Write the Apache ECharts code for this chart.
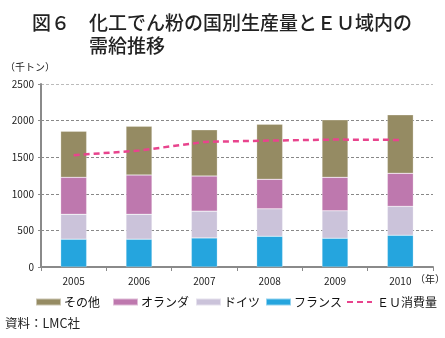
<!DOCTYPE html>
<html><head><meta charset="utf-8">
<script src="https://cdn.jsdelivr.net/npm/echarts@6/dist/echarts.min.js"></script>
<style>html,body{margin:0;padding:0;background:#fff}#c{width:445px;height:338px}</style>
</head><body><div id="c"></div>
<script>
const years = ['2005','2006','2007','2008','2009','2010'];
const france = [380, 380, 397, 420, 393, 434];
const germany = [340, 340, 366, 375, 375, 394];
const netherlands = [505, 537, 480, 403, 457, 452];
const other = [630, 667, 631, 753, 785, 799];
const euConsumption = [1527, 1590, 1709, 1727, 1741, 1736];
const yTicks = [0, 500, 1000, 1500, 2000, 2500];

const FONT = '"Noto Sans CJK JP", sans-serif';
const chart = echarts.init(document.getElementById('c'), null, {renderer:'canvas'});
const barW = 26;
function leg(name, left, icon){
  const o = {data:[name], left:left, top:296, itemWidth:25, itemHeight:7, itemGap:0,
    textStyle:{fontFamily:FONT, fontSize:12, color:'#111', padding:[0,0,0,-2]}, padding:0};
  if(icon) o.icon = icon;
  return o;
}
chart.setOption({
  animation:false,
  title:{text:'図６　化工でん粉の国別生産量とＥＵ域内の\n　　　需給推移', left:27, top:6,
    textStyle:{fontFamily:FONT, fontSize:19, fontWeight:500, color:'#222', lineHeight:23}},
  grid:{left:41, right:12, top:84, bottom:71},
  legend:[leg('その他',35,'rect'), leg('オランダ',112,'rect'), leg('ドイツ',195,'rect'), leg('フランス',265,'rect'),
    {data:[{name:'ＥＵ消費量', itemStyle:{opacity:0}}], left:346, top:296, itemWidth:25, itemHeight:7, padding:0,
      textStyle:{fontFamily:FONT, fontSize:12, color:'#111'}}],
  xAxis:{type:'category', data:years, boundaryGap:true,
    axisLine:{lineStyle:{color:'#8a8a8a', width:2}},
    axisTick:{show:true, length:4, lineStyle:{color:'#8a8a8a'}},
    axisLabel:{fontFamily:FONT, fontSize:10, color:'#222', margin:9}},
  yAxis:{type:'value', min:0, max:2500, interval:500,
    axisLine:{show:true, lineStyle:{color:'#8a8a8a', width:2}},
    axisTick:{show:true, length:3, lineStyle:{color:'#8a8a8a'}},
    axisLabel:{fontFamily:FONT, fontSize:10, color:'#222', margin:7,
      formatter:v=> yTicks.includes(v)? String(v):''},
    splitLine:{show:true, lineStyle:{color:['#888','#888','#888','#888','#888','#bbb'], type:[3,2], width:1}}},
  graphic:[
    {type:'text', left:5, top:62, style:{text:'（千トン）', fontFamily:FONT, fontSize:10, fill:'#222'}},
    {type:'text', left:415, top:274, style:{text:'（年）', fontFamily:FONT, fontSize:10, fill:'#222'}},
    {type:'text', left:5, top:317, style:{text:'資料：LMC社', fontFamily:FONT, fontSize:12.5, fill:'#222'}}
  ],
  series:[
    {name:'フランス', type:'bar', stack:'a', data:france, barWidth:barW, itemStyle:{color:'#25a5de', borderColor:'rgba(255,255,255,0.5)', borderWidth:0.5}},
    {name:'ドイツ', type:'bar', stack:'a', data:germany, barWidth:barW, itemStyle:{color:'#cbc3da', borderColor:'rgba(255,255,255,0.5)', borderWidth:0.5}},
    {name:'オランダ', type:'bar', stack:'a', data:netherlands, barWidth:barW, itemStyle:{color:'#be78ae', borderColor:'rgba(255,255,255,0.5)', borderWidth:0.5}},
    {name:'その他', type:'bar', stack:'a', data:other, barWidth:barW, itemStyle:{color:'#958b63', borderColor:'rgba(255,255,255,0.5)', borderWidth:0.5}},
    {name:'ＥＵ消費量', type:'line', data:euConsumption, symbol:'none', z:5,
      lineStyle:{color:'#e8448d', width:2.5, type:[6,4]}, itemStyle:{color:'#e8448d'}}
  ]
});
</script></body></html>
